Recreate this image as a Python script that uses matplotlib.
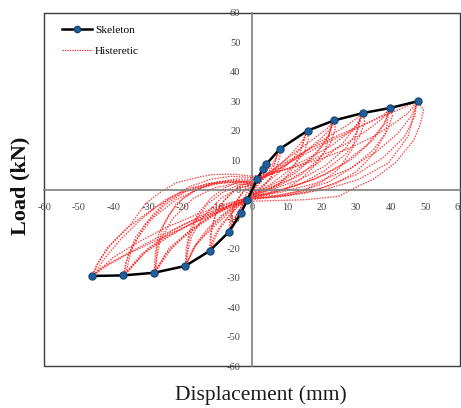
import matplotlib
matplotlib.use("Agg")
import matplotlib.pyplot as plt
from matplotlib.lines import Line2D

# ---------------- data ----------------
skel_x = [-46.3, -37.2, -28.3, -19.3, -12.3, -6.6, -3.2, -1.4,
          1.5, 3.0, 4.0, 8.0, 16.0, 23.7, 32.0, 39.8, 47.8]
skel_y = [-29.4, -29.2, -28.3, -26.0, -20.9, -14.3, -7.9, -3.6,
          3.6, 6.8, 8.5, 13.8, 20.0, 23.5, 26.0, 27.7, 30.0]

# hysteretic cycles (displacement mm, load kN)
h8a_x = [0, 5, 12, 20, 28, 35, 41, 45, 47.8, 49.5, 48.5, 46.5, 41.3, 35, 30, 25, 15, 5, 0,
         -6, -13, -20, -28, -36, -42, -46.3, -44.5, -41, -35.5, -30.5, -26, -21.9, -15, -11.4, -5, 0]
h8a_y = [4.5, 5.5, 7.5, 10.5, 14, 18, 22.5, 26, 30, 27, 22, 16.5, 9, 3.5, 0.8, -2.3, -3.5, -3.8, -4,
         -6, -9.5, -13, -17.5, -22, -26, -29.4, -25, -19, -12.5, -4.5, -0.5, 2.3, 4.3, 5.1, 5.2, 4.5]
h8b_x = [0, 8.7, 21, 30.7, 39.3, 45, 47.6, 46, 42, 36, 28, 18, 8, 0,
         -8, -16, -25, -33, -40, -45.5, -43, -38, -32, -25, -18, -10, -4, 0]
h8b_y = [-3.2, -2.3, 0, 3.4, 9, 18, 29.5, 25, 19, 13, 7, 2, -1, -2.5,
         -5, -8.5, -13, -18, -23, -29, -24, -17, -10, -3.5, 0.5, 2.5, 3, 2.8]
h8c_x = [0, 4, 10, 17, 25, 33, 40, 45, 47.5, 47, 44, 38, 30, 20, 10, 0,
         -10, -20, -30, -38, -44, -46, -45, -42, -36, -28, -20, -12, -5, 0]
h8c_y = [2, 5, 9.5, 14, 18.5, 22.5, 26, 28.5, 29.8, 25, 18, 11, 5, 0.5, -2, -3,
         -7, -12, -18, -23, -27, -29.2, -26, -20, -13, -6, -1, 2, 2.5, 2]

h7a_x = [0, 6, 13, 20, 27, 33, 37.5, 39.8, 40.5, 39, 35, 29, 22, 14, 6, 0,
         -6, -12, -19, -26, -32, -37.2, -36, -33.5, -29, -24, -18, -12, -6, 0]
h7a_y = [4, 5.5, 8, 11.5, 15.5, 20, 24, 27.7, 25, 20, 13.5, 7.5, 2.5, -0.5, -2.5, -3.5,
         -5.5, -8.5, -12.5, -17, -22, -29.2, -23, -16, -9, -3, 1, 3.5, 4.5, 4]
h7b_x = [0, 8, 16, 24, 30, 35, 38.5, 39.5, 38, 33, 26, 18, 10, 3, 0,
         -7, -15, -23, -30, -36.5, -35, -31, -25, -19, -13, -7, 0]
h7b_y = [-3, -2.5, -1, 2, 6, 12, 19, 27, 22, 15, 8.5, 3.5, 0.5, -1.5, -2.5,
         -5, -9, -14, -20, -28.8, -21, -12, -5, -0.5, 2, 3, 2.5]
h7c_x = [0, 5, 12, 20, 28, 34, 38, 39.6, 38.5, 35, 29, 21, 12, 4, 0,
         -8, -16, -24, -31, -36.8, -36.5, -34, -29, -22, -15, -8, -3, 0]
h7c_y = [2, 5, 10, 15, 19.5, 23, 25.5, 27.3, 23, 17, 10.5, 5, 1, -1.5, -2.5,
         -6, -10.5, -16, -21.5, -28.9, -25, -18, -10, -3.5, 0.5, 2.5, 2.5, 2]

h6a_x = [0, 5, 11, 17, 23, 28, 31, 32, 32.5, 31, 27, 21, 15, 8, 0,
         -5, -10, -15, -20, -25, -28.3, -28, -27, -24, -20, -15, -10, -5, 0]
h6a_y = [3.5, 5, 7.5, 11, 15, 19.5, 23, 26, 23, 18, 12, 6.5, 2.5, -0.5, -3,
         -5, -8, -12, -16.5, -22, -28.3, -22, -15, -8.5, -3, 0.5, 2.5, 3.5, 3.5]
h6b_x = [0, 7, 14, 20, 25, 29, 31.5, 30.5, 27, 21, 14, 7, 0,
         -6, -12, -18, -23, -27.8, -27.5, -25.5, -22, -17, -11, -5, 0]
h6b_y = [-2.5, -2, -0.5, 2.5, 7, 14, 25.5, 20, 14, 8, 3.5, 0.5, -2,
         -5, -9, -14, -19.5, -27.8, -20, -12, -5, -0.5, 2, 2.5, 2.5]
h6c_x = [0, 5, 10, 16, 22, 27, 30.5, 31.8, 30, 26, 19, 11, 4, 0,
         -6, -13, -19, -24, -28, -27.7, -26.5, -23, -17, -11, -5, 0]
h6c_y = [1.5, 5, 9, 13.5, 18, 21.5, 24.5, 25.8, 21.5, 15.5, 9, 3.5, 0, -1.5,
         -5, -10, -15, -20, -28, -24, -17, -10, -3, 0.5, 2, 1.5]

h5a_x = [0, 4, 8, 12, 16, 20, 22.5, 23.7, 24, 22.5, 19, 14, 8, 2, 0,
         -4, -8, -12, -16, -19.3, -19, -18, -15.5, -12, -8, -4, 0]
h5a_y = [3, 4.5, 7, 10, 13.5, 17.5, 20.5, 23.5, 20.5, 15.5, 10, 5, 1.5, -1.5, -2.5,
         -5, -8.5, -13, -18.5, -26, -20, -14, -8, -3, 0.5, 2.5, 3]
h5b_x = [0, 5, 10, 14, 18, 21, 23.2, 22, 18.5, 13, 7, 0,
         -4.5, -9, -13, -16.5, -19, -18.5, -16.5, -13, -8.5, -4, 0]
h5b_y = [-2, -1.5, 0.5, 3.5, 8, 13, 23, 18, 12, 6, 1.5, -2,
         -5, -9, -13.5, -19, -25.5, -18, -11, -5, -1, 1.5, 2]
h5c_x = [0, 4, 9, 14, 18, 21.5, 23.5, 22.5, 20, 15, 9, 3, 0,
         -5, -10, -14, -17, -19.1, -18.8, -17.5, -14, -9, -4, 0]
h5c_y = [1.5, 5, 9.5, 14, 17.5, 20.5, 23.3, 19.5, 14.5, 8.5, 3.5, 0, -1.5,
         -6, -11.5, -16, -20, -25.8, -22, -16, -9, -3, 0.5, 1.5]

h4a_x = [0, 3, 6, 9, 12, 14.5, 16, 16.2, 15, 12, 8, 3, 0,
         -3, -6, -9, -11, -12.3, -12, -11, -9, -6, -3, 0]
h4a_y = [2.5, 4, 6.5, 9.5, 13, 16.5, 20, 17, 12.5, 8, 4, 0, -2,
         -4.5, -8, -12, -16, -20.9, -15, -10, -5, -1.5, 1.5, 2.5]
h4b_x = [0, 4, 8, 11, 13.5, 15.6, 14.5, 11.5, 7, 2, 0,
         -3.5, -7, -10, -12, -11.7, -10.5, -8, -4.5, 0]
h4b_y = [-1.5, -0.5, 2, 6, 11, 19.5, 15, 10, 5, 0.5, -1.5,
         -5, -9.5, -14.5, -20.5, -14, -8.5, -3.5, 0.5, 1.5]

h3a_x = [0, 2, 4, 6, 7.3, 8, 8, 7, 5, 2, 0, -2, -4, -5.5, -6.6, -6.4, -5.5, -3.5, -1.5, 0]
h3a_y = [2, 3.5, 6, 9, 11.5, 13.8, 11, 7.5, 3.5, 0, -1.5, -4, -7.5, -10.5, -14.3, -10, -6, -2, 1, 2]
h3b_x = [0, 3, 5.5, 7.5, 6.5, 4, 1, 0, -2.5, -4.5, -6.3, -6, -4.5, -2, 0]
h3b_y = [-1, 0.5, 4, 13.3, 9, 4.5, 0.5, -1, -4.5, -8.5, -14, -9, -4, 0, 1]

h2_x = [0, 1.5, 3, 2.5, 1, 0, -1.5, -3.2, -2.8, -1.5, 0]
h2_y = [1.5, 3.5, 6.8, 4, 1, -0.5, -3.5, -7.9, -4.5, -1, 1.5]

h1_x = [0, 1.5, 1, 0, -1.4, -1, 0]
h1_y = [1, 3.6, 1.5, -0.5, -3.6, -1.5, 1]

ticks = [-60, -50, -40, -30, -20, -10, 0, 10, 20, 30, 40, 50, 60]

# ---------------- figure ----------------
fig = plt.figure(figsize=(4.61, 4.08), dpi=100)
ax = fig.add_axes([44.3 / 461, 1 - 366 / 408, (460 - 44.3) / 461, (366 - 13) / 408])

serif = ["Liberation Serif", "DejaVu Serif"]
red = "#ff1f1f"
cycles = [(h8a_x, h8a_y), (h8b_x, h8b_y), (h8c_x, h8c_y),
          (h7a_x, h7a_y), (h7b_x, h7b_y), (h7c_x, h7c_y),
          (h6a_x, h6a_y), (h6b_x, h6b_y), (h6c_x, h6c_y),
          (h5a_x, h5a_y), (h5b_x, h5b_y), (h5c_x, h5c_y),
          (h4a_x, h4a_y), (h4b_x, h4b_y), (h3a_x, h3a_y), (h3b_x, h3b_y),
          (h2_x, h2_y), (h1_x, h1_y)]
for cx, cy in cycles:
    ax.plot(cx, cy, color=red, lw=0.9, ls=(0, (1.2, 1.0)), alpha=0.85, zorder=2)

ax.plot(skel_x, skel_y, color="black", lw=1.8, zorder=3)
ax.plot(skel_x, skel_y, ls="none", marker="o", ms=5.2, mfc="#1f5f9e",
        mec="#17466f", mew=0.8, zorder=4)

ax.set_xlim(-60, 60)
ax.set_ylim(-60, 60)
ax.set_xticks(ticks)
ax.set_yticks(ticks)
ax.set_xticklabels([str(t) for t in ticks])
ax.set_yticklabels([str(t) for t in ticks])

for s in ["top", "right"]:
    ax.spines[s].set_visible(False)
ax.spines["left"].set_position(("data", 0))
ax.spines["bottom"].set_position(("data", 0))
ax.spines["left"].set_color("#7f7f7f")
ax.spines["bottom"].set_color("#7f7f7f")
ax.spines["left"].set_linewidth(1.2)
ax.spines["bottom"].set_linewidth(1.2)
ax.patch.set_edgecolor("#3a3a3a")
ax.patch.set_linewidth(1.0)
ax.patch.set_facecolor("white")

ax.tick_params(axis="x", length=0, pad=9.5, labelsize=7.5, labelcolor="#444444")
ax.tick_params(axis="y", length=0, pad=8.5, labelsize=7.5, labelcolor="#444444")
for lab in ax.get_xticklabels() + ax.get_yticklabels():
    lab.set_family(serif)

handles = [Line2D([], [], color="black", lw=1.8, marker="o", ms=4.5,
                  mfc="#1f5f9e", mec="#17466f"),
           Line2D([], [], color=red, lw=0.8, ls=(0, (1.2, 1.0)))]
leg = ax.legend(handles, ["Skeleton", "Histeretic"], loc="upper left",
                bbox_to_anchor=(0.0426, 0.966), frameon=False, borderpad=0,
                borderaxespad=0, handlelength=2.6, handletextpad=0.3,
                labelspacing=0.95, prop={"family": serif, "size": 8.2})

fig.text(261 / 461, 1 - 395 / 408, "Displacement (mm)", ha="center", va="center",
         family=serif, fontsize=15.5, color="#1a1a1a")
fig.text(20 / 461, 1 - 186 / 408, "Load (kN)", ha="center", va="center",
         rotation=90, family=serif, fontsize=16, fontweight="bold", color="#111111")

fig.savefig("out.png", dpi=100)
